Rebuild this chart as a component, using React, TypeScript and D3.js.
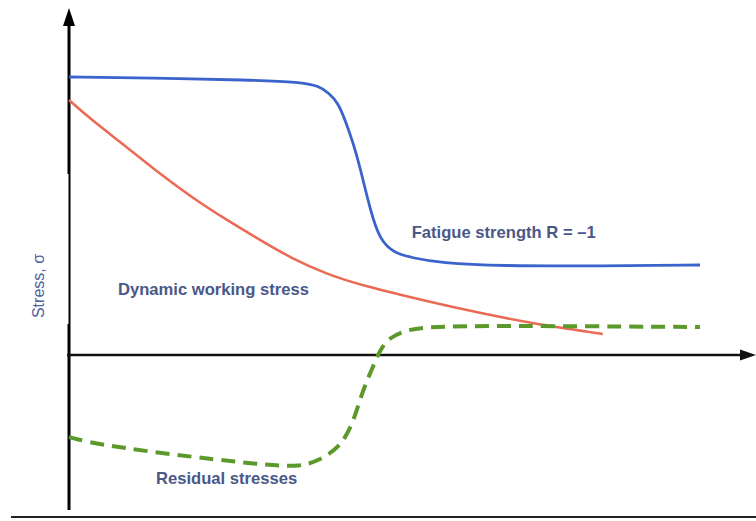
import React from 'react';
import * as d3 from 'd3';

const width = 756;
const height = 521;

// x: time / position (arbitrary units), y: stress (arbitrary units)
const fatigueX = [0, 1.19, 2.66, 3.40, 3.68, 3.82, 3.96, 4.06, 4.18, 4.29, 4.43, 4.57, 4.78, 5.06, 5.46, 6.34, 7.81, 9.28];
const fatigueY = [2.78, 2.77, 2.75, 2.73, 2.69, 2.62, 2.52, 2.35, 2.12, 1.85, 1.45, 1.15, 1.02, 0.97, 0.92, 0.89, 0.89, 0.90];

const workingX = [0, 0.35, 0.85, 1.34, 1.82, 2.32, 2.81, 3.29, 3.79, 4.28, 5.31, 6.04, 6.78, 7.85];
const workingY = [2.55, 2.34, 2.08, 1.81, 1.57, 1.35, 1.15, 0.96, 0.81, 0.70, 0.53, 0.42, 0.32, 0.21];

const residualX = [0, 0.44, 1.93, 2.91, 3.40, 3.69, 3.99, 4.18, 4.32, 4.47, 4.57, 4.72, 4.97, 5.31, 7.07, 9.28];
const residualY = [-0.82, -0.90, -1.03, -1.10, -1.12, -1.05, -0.92, -0.68, -0.35, -0.12, 0.05, 0.18, 0.25, 0.29, 0.29, 0.28];

const labels = [
  { text: 'Fatigue strength R = \u20131', x: 5.04, y: 1.17 },
  { text: 'Dynamic working stress', x: 0.72, y: 0.60 },
  { text: 'Residual stresses', x: 1.28, y: -1.29 },
];

const xScale = d3.scaleLinear().domain([0, 10]).range([69, 749]);
const yScale = d3.scaleLinear().domain([-1.6, 3.4]).range([515, 15]);

const line = d3.line<[number, number]>()
  .x(d => xScale(d[0]))
  .y(d => yScale(d[1]))
  .curve(d3.curveBasis);

const zip = (xs: number[], ys: number[]) => xs.map((x, i) => [x, ys[i]] as [number, number]);

const textColor = '#4a5888';
const font = '"Liberation Sans", Arial, sans-serif';

export default function App() {
  const x0 = xScale(0);
  const y0 = yScale(0);
  return (
    <div style={{ position: 'fixed', left: 0, top: 0 }}>
      <svg width={width} height={height} style={{ display: 'block', background: '#fff' }}>
        {/* axes (y axis drawn thinner in its middle part, as in the source) */}
        <line x1={x0} y1={22} x2={x0} y2={174} stroke="#000" strokeWidth={3} />
        <line x1={x0 + 0.5} y1={174} x2={x0 + 0.5} y2={324} stroke="#000" strokeWidth={2} />
        <line x1={x0} y1={324} x2={x0} y2={510} stroke="#000" strokeWidth={3} />
        <path d={`M${x0},8 L${x0 - 6},26 L${x0 + 6},26 Z`} fill="#000" />
        <line x1={x0 - 2} y1={y0} x2={743} y2={y0} stroke="#111" strokeWidth={2.5} />
        <path d={`M756,${y0} L740,${y0 - 5.5} L740,${y0 + 5.5} Z`} fill="#111" />
        <line x1={11} y1={517} x2={756} y2={517} stroke="#222" strokeWidth={2} />

        {/* curves */}
        <path d={line(zip(workingX, workingY)) || ''} fill="none" stroke="#ea6a55" strokeWidth={2.5} />
        <path d={line(zip(fatigueX, fatigueY)) || ''} fill="none" stroke="#3b63cc" strokeWidth={2.8} />
        <path
          d={line(zip(residualX, residualY)) || ''}
          fill="none"
          stroke="#5b9a2a"
          strokeWidth={4}
          strokeDasharray="14 8"
        />

        {/* labels */}
        {labels.map(l => (
          <text
            key={l.text}
            x={xScale(l.x)}
            y={yScale(l.y)}
            fill={textColor}
            fontFamily={font}
            fontWeight="bold"
            fontSize={16.6}
          >
            {l.text}
          </text>
        ))}
        <text
          transform={`translate(44, 286) rotate(-90)`}
          textAnchor="middle"
          fill="#5061a0"
          fontFamily={font}
          fontSize={16}
        >
          Stress, σ
        </text>
      </svg>
    </div>
  );
}
